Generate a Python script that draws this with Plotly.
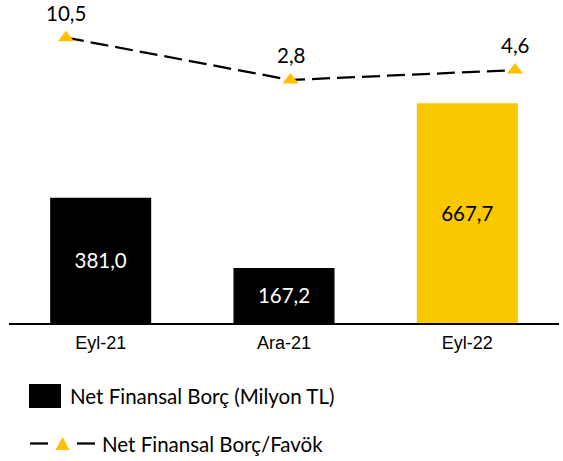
import plotly.graph_objects as go

categories = ["Eyl-21", "Ara-21", "Eyl-22"]
debt_values = [381.0, 167.2, 667.7]
ratio_values = [10.5, 2.8, 4.6]
bar_colors = ["#000000", "#000000", "#FAC800"]
bar_text_colors = ["#FFFFFF", "#FFFFFF", "#000000"]
legend_bar_label = "Net Finansal Borç (Milyon TL)"
legend_line_label = "Net Finansal Borç/Favök"

W, H = 563, 461
ML, MR, MT, MB = 9, 4, 13, 138
PW, PH = W - ML - MR, H - MT - MB
LABEL_FONT = "Lato"
LABEL_SIZE = 20.5


def px(x):
    return (x - ML) / PW


def py(y):
    return (H - MB - y) / PH


fig = go.Figure()
fig.add_trace(go.Bar(
    x=categories, y=debt_values, marker=dict(color=bar_colors, line=dict(width=0)),
    texttemplate="%{y:.1f}", textposition="inside", insidetextanchor="middle",
    textangle=0, textfont=dict(family=LABEL_FONT, size=LABEL_SIZE, color=bar_text_colors),
    name=legend_bar_label, showlegend=False, cliponaxis=False,
))
fig.add_trace(go.Scatter(
    x=categories, y=ratio_values, xaxis="x2", yaxis="y2", mode="lines+markers",
    line=dict(color="#000000", width=2.25, dash="18px,7px"),
    marker=dict(symbol="triangle-up", size=14, color="#FFC000", line=dict(width=0)),
    name=legend_line_label, showlegend=False, cliponaxis=False,
))

annotations = []
for c, v in zip(categories, ratio_values):
    annotations.append(dict(
        x=c, y=v, xref="x2", yref="y2", text=f"{v:.1f}".replace(".", ","),
        showarrow=False, yshift=25, font=dict(family=LABEL_FONT, size=LABEL_SIZE, color="#000000"),
    ))

# custom legend
annotations.append(dict(x=px(68), y=py(396), xref="paper", yref="paper", xanchor="left", yanchor="middle",
                        text=legend_bar_label, showarrow=False,
                        font=dict(family=LABEL_FONT, size=LABEL_SIZE, color="#000000")))
annotations.append(dict(x=px(100), y=py(444), xref="paper", yref="paper", xanchor="left", yanchor="middle",
                        text=legend_line_label, showarrow=False,
                        font=dict(family=LABEL_FONT, size=LABEL_SIZE, color="#000000")))
shapes = [
    dict(type="rect", xref="paper", yref="paper", x0=px(29), x1=px(61), y0=py(408), y1=py(384),
         fillcolor="#000000", line=dict(width=0)),
    dict(type="line", xref="paper", yref="paper", x0=px(30), x1=px(48), y0=py(443.5), y1=py(443.5),
         line=dict(color="#000000", width=2.25)),
    dict(type="line", xref="paper", yref="paper", x0=px(77), x1=px(95), y0=py(443.5), y1=py(443.5),
         line=dict(color="#000000", width=2.25)),
    dict(type="path", xref="paper", yref="paper",
         path=f"M {px(55.5)} {py(450)} L {px(69.5)} {py(450)} L {px(62.5)} {py(437)} Z",
         fillcolor="#FFC000", line=dict(width=0)),
]

fig.update_layout(
    width=W, height=H, margin=dict(l=ML, r=MR, t=MT, b=MB),
    paper_bgcolor="#FFFFFF", plot_bgcolor="#FFFFFF",
    separators=",.", bargap=0.449, showlegend=False,
    xaxis=dict(type="category", showline=True, linecolor="#000000", linewidth=1.5, ticks="",
               showgrid=False, zeroline=False, tickfont=dict(family="Liberation Sans, Arial", size=18, color="#000000"),
               ticklabelstandoff=3, fixedrange=True),
    xaxis2=dict(type="category", overlaying="x", range=[-0.254, 2.196], visible=False, fixedrange=True),
    yaxis=dict(range=[0, 942.2], visible=False, showgrid=False, zeroline=False, fixedrange=True),
    yaxis2=dict(range=[-41.38, 14.98], overlaying="y", visible=False, showgrid=False, zeroline=False, fixedrange=True),
    annotations=annotations, shapes=shapes,
)

fig.write_html("out.html", config={"displayModeBar": False},
               post_script="document.body.style.margin='0';document.body.style.padding='0';")
